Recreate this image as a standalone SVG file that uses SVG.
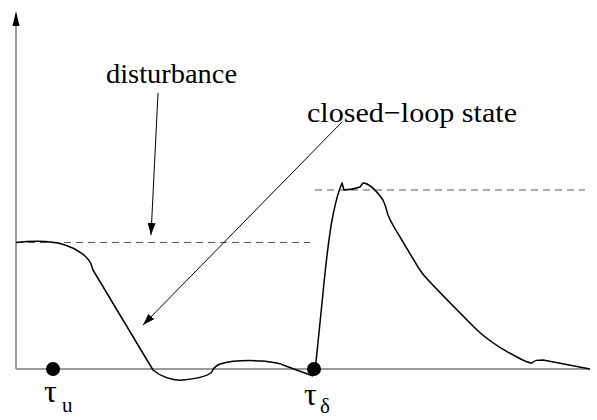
<svg xmlns="http://www.w3.org/2000/svg" width="597" height="420" viewBox="0 0 597 420">
<defs>
<style>
.axis{stroke:#7a7a7a;stroke-width:1.5;fill:none}
.dash{stroke:#555;stroke-width:1;stroke-dasharray:7,5;fill:none}
.curve{stroke:#000;stroke-width:1.5;fill:none;stroke-linejoin:round}
.ptr{stroke:#000;stroke-width:1;fill:none}
.lbl{font-family:"Liberation Serif","Times New Roman",serif;fill:#000}
</style>
<marker id="ah" viewBox="0 0 12 8" refX="12" refY="4" markerWidth="12" markerHeight="8" markerUnits="userSpaceOnUse" orient="auto">
<path d="M0,0 L12,4 L0,8 Z" fill="#000"/>
</marker>
</defs>
<g id="axes">
<line class="axis" x1="16" y1="369" x2="590" y2="369"/>
<line class="axis" x1="16" y1="369" x2="16" y2="24"/>
<path d="M12.5,26 L16,11 L19.5,26 Z" fill="#000"/>
</g>
<g id="levels">
<line class="dash" x1="16" y1="242.5" x2="310" y2="242.5"/>
<line class="dash" x1="315" y1="190" x2="585" y2="190"/>
</g>
<g id="state-curve">
<path class="curve" d="M16,242.5 C30,241 50,240 65,245 C78,249 88,257 91,264 L93,270 L153,370 C160,376 172,381 183,380 C195,379 205,377 211,373 C213,370 213,367 220,364 C230,361 245,360 263,361 C272,362 280,363 283,365 L313,376"/>
<path class="curve" d="M315,372 L323,293 C326,262 329,235 333,215 C336,200 339,190 342,183 L344,190 C348,190 355,189 360,187 L363,183 C368,183 376,190 383,200 C386,206 387,212 388,215 C392,225 398,233 400,237 L418,267 L422,273 C430,283 440,293 477,330 C490,342 503,350 517,357 C524,361 529,363 532,363 C535,360 537,360 543,360 L590,369"/>
</g>
<g id="connectors">
<line class="ptr" x1="158" y1="93" x2="151" y2="235" marker-end="url(#ah)"/>
<line class="ptr" x1="342" y1="122" x2="143" y2="325" marker-end="url(#ah)"/>
</g>
<g id="disturbance-label">
<text class="lbl" x="106" y="83" font-size="27" textLength="131" lengthAdjust="spacingAndGlyphs">disturbance</text>
</g>
<g id="state-label">
<text class="lbl" x="307" y="122" font-size="28" textLength="210" lengthAdjust="spacingAndGlyphs">closed−loop state</text>
</g>
<g id="tau-u">
<circle cx="53" cy="369" r="7" fill="#000"/>
<text class="lbl" x="44" y="402" font-size="32">τ</text>
<text class="lbl" x="62" y="412" font-size="21">u</text>
</g>
<g id="tau-delta">
<circle cx="314" cy="369" r="7" fill="#000"/>
<text class="lbl" x="304" y="405" font-size="32">τ</text>
<text class="lbl" x="320" y="413" font-size="21">δ</text>
</g>
</svg>
